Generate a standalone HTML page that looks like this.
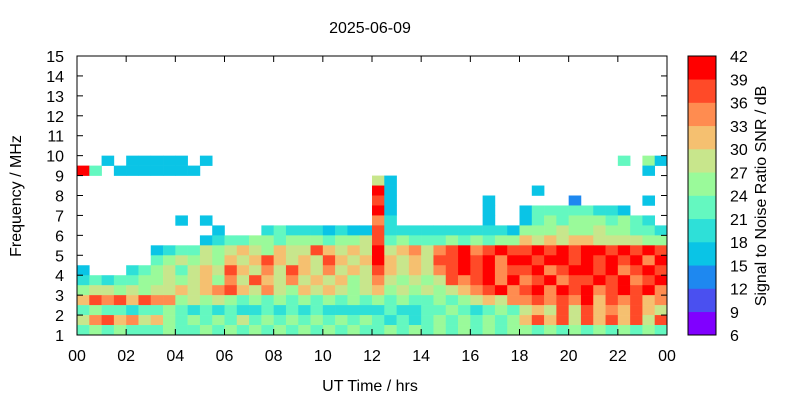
<!DOCTYPE html>
<html><head><meta charset="utf-8"><style>
body{margin:0;background:#fff;}
svg text{font-family:"Liberation Sans",sans-serif;font-size:16px;fill:#000;}
</style></head><body>
<svg id="c" width="800" height="400" xmlns="http://www.w3.org/2000/svg"></svg>
<script>
// colour levels (SNR dB) and palette bins
const levels=[6,9,12,15,18,21,24,27,30,33,36,39,42];
const palette=["#8000ff","#4a50f0","#1e88f0","#0ac4e6","#2ee0d8","#64f8c0","#9afa9a","#c8e68c","#f5c070","#ff8c50","#ff4a28","#ff0000"];
const xTicks=["00","02","04","06","08","10","12","14","16","18","20","22","00"];
const yTicks=[1,2,3,4,5,6,7,8,9,10,11,12,13,14,15];
// heatmap grid: rows from 15 MHz down to 1 MHz (0.5 MHz steps), 48 columns of 30 min (4 segments of 12); char = colour bin index
const E="............";
const snrRows=[
[E,E,E,E],[E,E,E,E],[E,E,E,E],[E,E,E,E],[E,E,E,E],
[E,E,E,E],[E,E,E,E],[E,E,E,E],[E,E,E,E],[E,E,E,E],
["..3.33333.3.",E,E,"........5.63"],
["b5.3333333..",E,E,"..........3."],
[E,E,"73..........",E],
[E,E,"b3..........",".3.........."],
[E,E,"a3.......3..","....2.....3."],
[E,E,"b3.......3..","355555443..."],
["........3.3.",E,"94.......3..","35656665654."],
["...........3","...454443433","a44444444443","666766766554"],
["..........34","556656665667","a56555656566","878788777766"],
["......345576","7876877a8787","b78979ab9aba","abababbababa"],
["......567676","878a8787a878","b8787aabab9b","babbababab9b"],
["3...45675787","a8797a879787","a87879abab9a","ab9abbab9aba"],
["454556676786","97a879787867","976767a9ab9b","9ab9aabab9ab"],
["677676778789","a87976878767","867676789ab9","ab9bab9abab9"],
["8a9a8a996767","656565656565","656556567879","9a9a9b8a9a89"],
["565545565454","544545454444","454455654565","787a7a898a87"],
["79a897865656","575656565656","545456565656","8a8a7a8a8a7a"],
["565655565565","656565656565","565656565656","656565656565"]
];
const tMin=0,tMax=24,fMin=1,fMax=15;
const X0=77,X1=667,Y0=335,Y1=56;
const xs=t=>X0+(t-tMin)/(tMax-tMin)*(X1-X0);
const ys=f=>Y0-(f-fMin)/(fMax-fMin)*(Y0-Y1);
const svg=document.getElementById('c');
const NS="http://www.w3.org/2000/svg";
function mk(tag,attrs,txt){const e=document.createElementNS(NS,tag);for(const k in attrs)e.setAttribute(k,attrs[k]);if(txt!==undefined)e.textContent=txt;svg.appendChild(e);return e;}
const codes="0123456789ab";
const nRows=snrRows.length, dt=24/48, df=(fMax-fMin)/nRows;
snrRows.forEach((segs,r)=>{
  const row=segs.join('');
  for(let c=0;c<48;c++){
    const ch=row[c]; if(!ch) continue; const k=codes.indexOf(ch); if(k<0) continue;
    const fTop=fMax-r*df, t=c*dt;
    const el=mk('rect',{x:xs(t),y:ys(fTop),width:xs(t+dt)-xs(t)+0.3,height:ys(fTop-df)-ys(fTop)+0.3,fill:palette[k]});
    
    
  }
});
let fr=mk('rect',{x:X0,y:Y1,width:X1-X0,height:Y0-Y1,fill:'none',stroke:'#000','stroke-width':1});

xTicks.forEach((lab,i)=>{const x=xs(i*2);
  mk('line',{x1:x,y1:Y0,x2:x,y2:Y0-6,stroke:'#000'});mk('line',{x1:x,y1:Y1,x2:x,y2:Y1+6,stroke:'#000'});
  const t=mk('text',{x:x,y:Y0+26,'text-anchor':'middle'},lab);
  
});
yTicks.forEach(v=>{const y=ys(v);
  mk('line',{x1:X0,y1:y,x2:X0+6,y2:y,stroke:'#000'});mk('line',{x1:X1,y1:y,x2:X1-6,y2:y,stroke:'#000'});
  const t=mk('text',{x:X0-13,y:y+6,'text-anchor':'end'},v);
  
});
let e;
e=mk('text',{x:370,y:33,'text-anchor':'middle'},'2025-06-09');
e=mk('text',{x:370,y:391,'text-anchor':'middle'},'UT Time / hrs');
e=mk('text',{x:0,y:0,'text-anchor':'middle',transform:'translate(21,196) rotate(-90)'},'Frequency / MHz');
const CB0=688,CB1=716;
const cy=v=>Y0-(v-levels[0])/(levels[levels.length-1]-levels[0])*(Y0-Y1);
palette.forEach((col,i)=>{
  const el=mk('rect',{x:CB0,y:cy(levels[i+1]),width:CB1-CB0,height:cy(levels[i])-cy(levels[i+1])+0.3,fill:col});
  
});
e=mk('rect',{x:CB0,y:Y1,width:CB1-CB0,height:Y0-Y1,fill:'none',stroke:'#000'});
levels.forEach(v=>{const t=mk('text',{x:730,y:cy(v)+6},v);});
e=mk('text',{x:0,y:0,'text-anchor':'middle',transform:'translate(766,196) rotate(-90)'},'Signal to Noise Ratio SNR / dB');
</script>
</body></html>
